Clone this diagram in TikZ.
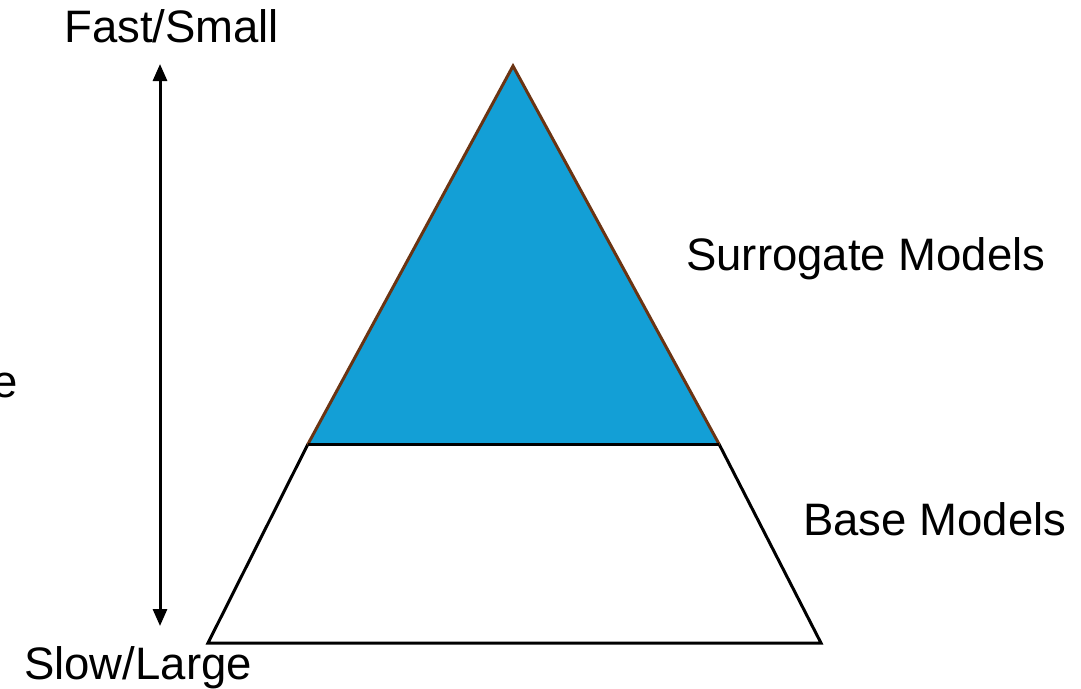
\documentclass[tikz,border=0pt]{standalone}
\usepackage{fontspec}
\setmainfont{Liberation Sans}
\usetikzlibrary{arrows.meta}
\definecolor{tribrown}{HTML}{6B3413}
\definecolor{triblue}{HTML}{139FD6}
\begin{document}
\begin{tikzpicture}[x=1pt,y=-1pt,
  lbl/.style={inner sep=0pt,font=\fontsize{45.5}{50}\selectfont},
  edge/.style={line width=3pt,line join=miter}]
\useasboundingbox (0,0) rectangle (1081,688);
% trapezoid
\coordinate (bl) at (208,643);
\coordinate (br) at (821,643);
\coordinate (ml) at (308,444);
\coordinate (mr) at (719,444);
\coordinate (apex) at (513,66);
\draw[edge,black] (ml) -- (bl) -- (br) -- (mr);
\fill[triblue] (apex) -- (ml) -- (mr) -- cycle;
\draw[edge,tribrown,line cap=round] (ml) -- (apex) -- (mr);
\draw[edge,black] (ml) -- (mr);
% arrow
\coordinate (atop) at (160,64);
\coordinate (abot) at (160,626);
\draw[line width=3pt,{Triangle[length=17pt,width=14pt]}-{Triangle[length=17pt,width=14pt]}] (atop) -- (abot);
% labels
\node[lbl,anchor=base west] (fast) at (64,42) {Fast/Small};
\node[lbl,anchor=base west] (slow) at (24,679) {Slow/Large};
\node[lbl,anchor=base west] (sur) at (686,270) {Surrogate Models};
\node[lbl,anchor=base west] (base) at (803,535) {Base Models};
\node[lbl,anchor=base east] (e) at (18,397) {e};
\end{tikzpicture}
\end{document}
